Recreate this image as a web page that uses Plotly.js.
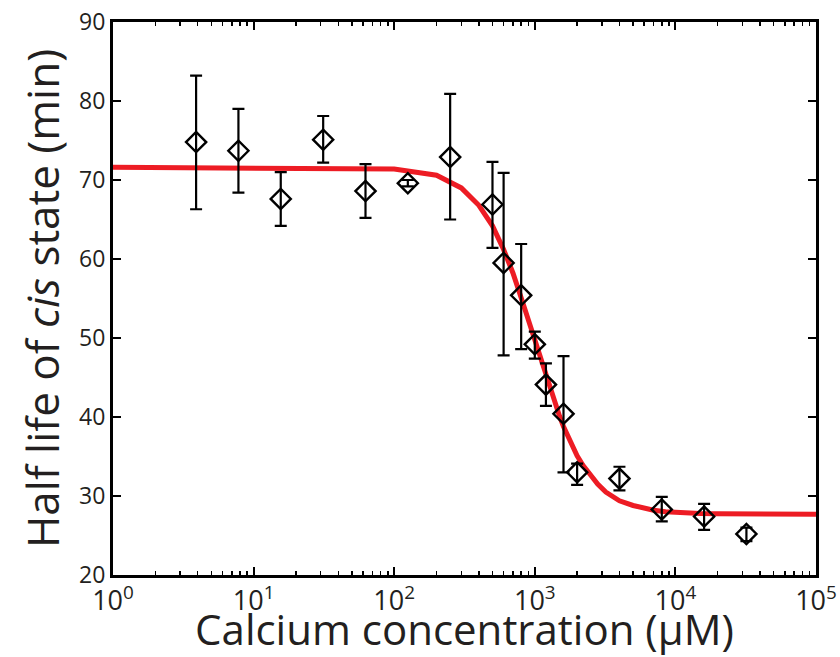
<!DOCTYPE html>
<html>
<head>
<meta charset="utf-8">
<script src="https://cdn.plot.ly/plotly-3.0.1.min.js"></script>
<style>
html,body{margin:0;padding:0;background:#fff;}
#chart{width:840px;height:657px;}
</style>
</head>
<body>
<div id="chart"></div>
<script>
// Measured data (calcium concentration in µM, half life in min)
const concentration = [3.9, 7.8, 15.6, 31.25, 62.5, 125, 250, 500, 600, 800, 1000, 1200, 1600, 2000, 4000, 8000, 16000, 32000];
const halfLife      = [74.8, 73.7, 67.6, 75.1, 68.6, 69.6, 72.9, 66.9, 59.5, 55.4, 49.2, 44.1, 40.4, 33.0, 32.2, 28.3, 27.4, 25.2];
const errPlus       = [8.4, 5.3, 3.4, 3.0, 3.4, 0.4, 8.0, 5.4, 11.4, 6.5, 1.6, 2.7, 7.3, 1.1, 1.5, 1.6, 1.6, 0.8];
const errMinus      = [8.5, 5.3, 3.4, 2.9, 3.4, 0.4, 7.9, 5.5, 11.7, 6.8, 1.8, 2.7, 7.4, 1.6, 1.5, 1.5, 1.7, 0.9];

// Fitted curve
const fitX = [1, 100, 200, 300, 400, 500, 600, 700, 800, 900, 1000, 1100, 1200, 1300, 1400, 1500, 1600, 1800, 2000, 2200, 2500, 2800, 3200, 3600, 4000, 5000, 6000, 7000, 8500, 10000, 15000, 20000, 50000, 100000];
const fitY = [71.6, 71.4, 70.6, 69.0, 66.8, 64.2, 61.2, 58.2, 55.1, 52.3, 49.6, 47.3, 45.1, 43.2, 41.6, 40.1, 38.8, 36.7, 35.1, 33.9, 32.5, 31.5, 30.5, 29.9, 29.4, 28.8, 28.4, 28.2, 28.0, 27.9, 27.8, 27.75, 27.7, 27.7];

// Axis ticks
const xTickVals = [1, 10, 100, 1000, 10000, 100000];
const xTickText = ['10<sup>0</sup>', '10<sup>1</sup>', '10<sup>2</sup>', '10<sup>3</sup>', '10<sup>4</sup>', '10<sup>5</sup>'];
const xMinorVals = [2,3,4,5,6,7,8,9,20,30,40,50,60,70,80,90,200,300,400,500,600,700,800,900,2000,3000,4000,5000,6000,7000,8000,9000,20000,30000,40000,50000,60000,70000,80000,90000];
const yTickVals = [20, 30, 40, 50, 60, 70, 80, 90];

const traces = [
  {
    x: fitX, y: fitY, type: 'scatter', mode: 'lines',
    line: {color: '#ed1c24', width: 5},
    hoverinfo: 'skip', showlegend: false
  },
  {
    x: concentration, y: halfLife, type: 'scatter', mode: 'markers',
    marker: {symbol: 'diamond-open', size: 15.5, color: '#000', line: {color: '#000', width: 2.4}},
    error_y: {type: 'data', symmetric: false, array: errPlus, arrayminus: errMinus, color: '#000', thickness: 2.2, width: 6},
    showlegend: false
  }
];

const layout = {
  width: 840, height: 657,
  margin: {l: 113, r: 24, t: 22, b: 82},
  paper_bgcolor: '#fff', plot_bgcolor: '#fff',
  font: {family: '"Open Sans", sans-serif', color: '#231f20'},
  xaxis: {
    type: 'log', range: [0, 5],
    tickmode: 'array', tickvals: xTickVals, ticktext: xTickText,
    ticks: 'inside', ticklen: 8, tickwidth: 2, tickcolor: '#000',
    minor: {tickmode: 'array', tickvals: xMinorVals, ticks: 'inside', ticklen: 4, tickwidth: 1.5, tickcolor: '#000', showgrid: false},
    showline: true, linecolor: '#000', linewidth: 3, mirror: 'ticks',
    showgrid: false, zeroline: false,
    tickfont: {family: '"Open Sans", sans-serif', size: 27, color: '#231f20'},
    title: {text: 'Calcium concentration (µM)', font: {family: '"Open Sans", sans-serif', size: 42, color: '#231f20'}, standoff: 0}
  },
  yaxis: {
    range: [20, 90],
    tickmode: 'array', tickvals: yTickVals,
    ticks: 'inside', ticklen: 8, tickwidth: 2, tickcolor: '#000',
    showline: true, linecolor: '#000', linewidth: 3, mirror: 'ticks',
    showgrid: false, zeroline: false,
    tickfont: {family: '"Open Sans", sans-serif', size: 23, color: '#231f20'},
    title: {text: 'Half life of <i>cis</i> state (min)', font: {family: '"Open Sans", sans-serif', size: 44, color: '#231f20'}, standoff: 6}
  }
};

Plotly.newPlot('chart', traces, layout, {displayModeBar: false, staticPlot: true});
</script>
</body>
</html>
